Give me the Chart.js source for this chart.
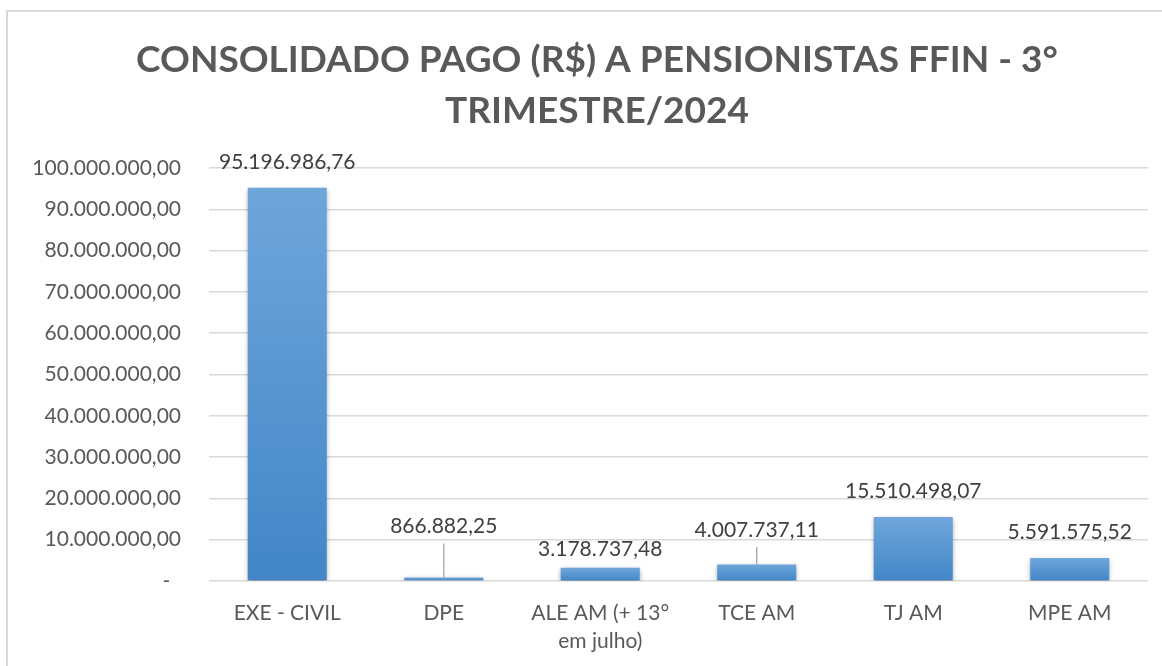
<!DOCTYPE html>
<html>
<head>
<meta charset="utf-8">
<script src="https://cdn.jsdelivr.net/npm/chart.js@4"></script>
<style>
  body { margin: 0; background: #fff; }
  #wrap { width: 1162px; height: 666px; position: relative; }
</style>
</head>
<body>
<div id="wrap"><canvas id="myChart"></canvas></div>
<script>
// categorias e valores pagos no trimestre
const categories = ['EXE - CIVIL', 'DPE', ['ALE AM (+ 13°', 'em julho)'], 'TCE AM', 'TJ AM', 'MPE AM'];
const amountsPaid = [95196986.76, 866882.25, 3178737.48, 4007737.11, 15510498.07, 5591575.52];
const yTickLabels = ['-', '10.000.000,00', '20.000.000,00', '30.000.000,00', '40.000.000,00', '50.000.000,00',
    '60.000.000,00', '70.000.000,00', '80.000.000,00', '90.000.000,00', '100.000.000,00'];
const titleLines = ['CONSOLIDADO PAGO (R$) A PENSIONISTAS FFIN - 3°', 'TRIMESTRE/2024'];

// formato 1.234.567,89
function formatBRL(v)
{
    const parts = v.toFixed(2).split('.');
    const inteiro = parts[0].replace(/\B(?=(\d{3})+(?!\d))/g, '.');
    return inteiro + ',' + parts[1];
}

// gradiente de cada barra, do topo ate a base
function barGradient(context)
{
    const chart = context.chart;
    const y = chart.scales.y;
    if (!chart.chartArea || !y) {
        return '#5B9BD5';
    }
    const top = y.getPixelForValue(context.parsed ? context.parsed.y : 0);
    const base = y.getPixelForValue(0);
    const g = chart.ctx.createLinearGradient(0, top, 0, Math.max(base, top + 1));
    g.addColorStop(0, '#6FA6DA');
    g.addColorStop(1, '#4286C8');
    return g;
}

// moldura cinza + titulo em duas linhas
const frame = {
    id: 'frame',
    beforeDraw(chart) {
        const ctx = chart.ctx;
        ctx.save();
        ctx.strokeStyle = '#d9d9d9';
        ctx.lineWidth = 2;
        ctx.strokeRect(7, 11, chart.width + 20, chart.height + 20);

        ctx.fillStyle = '#595959';
        ctx.font = 'bold 37px Lato';
        ctx.textAlign = 'center';
        ctx.textBaseline = 'middle';
        titleLines.forEach(function (line, i) {
            ctx.fillText(line, 597, 60 + i * 51.5);
        });
        ctx.restore();
    }
};

// sombra das barras + rotulos de valor
const barLabels = {
    id: 'barLabels',
    beforeDatasetsDraw(chart) {
        const ctx = chart.ctx;
        ctx.save();
        ctx.shadowColor = 'rgba(0, 0, 0, 0.38)';
        ctx.shadowBlur = 5;
        ctx.shadowOffsetY = 2;
    },
    afterDatasetsDraw(chart, args, opts) {
        const ctx = chart.ctx;
        ctx.restore();
        const meta = chart.getDatasetMeta(0);
        ctx.save();
        ctx.font = '21px Lato';
        ctx.fillStyle = '#404040';
        ctx.textAlign = 'center';
        ctx.textBaseline = 'middle';
        meta.data.forEach(function (bar, i) {
            const ly = bar.y - opts.lift[i];
            ctx.fillText(formatBRL(amountsPaid[i]), bar.x, ly);
            if (opts.leader[i]) {
                ctx.beginPath();
                ctx.strokeStyle = '#a6a6a6';
                ctx.lineWidth = 1.3;
                ctx.moveTo(bar.x, ly + 17);
                ctx.lineTo(bar.x, bar.y);
                ctx.stroke();
            }
        });
        ctx.restore();
    }
};

const ctx = document.getElementById('myChart').getContext('2d');
const myChart = new Chart(ctx, {
    type: 'bar',
    data: {
        labels: categories,
        datasets: [{
            label: 'Consolidado pago',
            data: amountsPaid,
            backgroundColor: barGradient,
            borderWidth: 0,
            barPercentage: 0.505,
            categoryPercentage: 1
        }]
    },
    options: {
        responsive: true,
        maintainAspectRatio: false,
        animation: false,
        layout: {
            padding: { left: 28, right: 14, top: 168, bottom: 0 }
        },
        plugins: {
            legend: { display: false },
            tooltip: { enabled: false },
            title: { display: false },
            barLabels: {
                lift: [25.5, 51, 19, 34.5, 25.5, 25.5],
                leader: [false, true, false, true, false, false]
            }
        },
        scales: {
            x: {
                grid: { display: false, drawTicks: false },
                border: { display: false },
                ticks: {
                    color: '#595959',
                    font: { family: 'Lato', size: 21, lineHeight: 28 / 21 },
                    padding: 18,
                    maxRotation: 0,
                    autoSkip: false
                },
                afterFit(scale) { scale.height = 85; }
            },
            y: {
                min: 0,
                max: 100000000,
                grid: { color: '#d9d9d9', lineWidth: 1.5, drawTicks: false },
                border: { display: false },
                ticks: {
                    stepSize: 10000000,
                    color: '#595959',
                    font: { family: 'Lato', size: 21 },
                    padding: 28,
                    callback: function (value) {
                        const t = yTickLabels[Math.round(value / 10000000)];
                        return value === 0 ? t + '  ' : t;
                    }
                },
                afterFit(scale) { scale.width = 181; }
            }
        }
    },
    plugins: [frame, barLabels]
});
</script>
</body>
</html>
